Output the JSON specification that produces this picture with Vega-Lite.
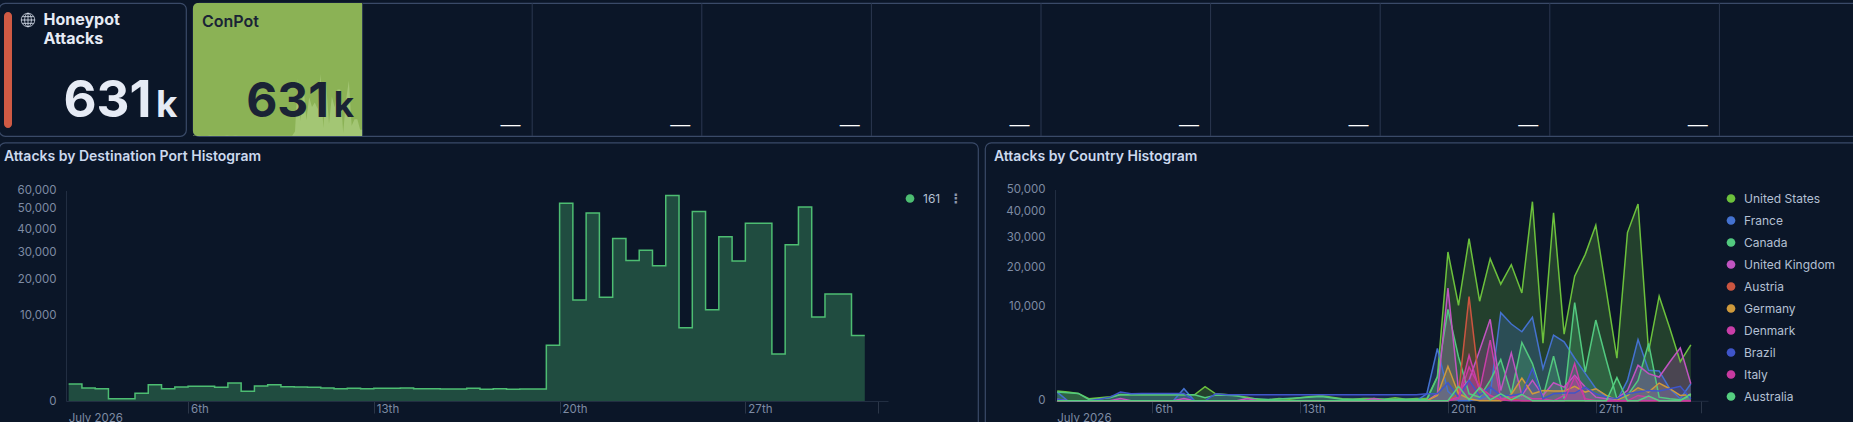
{
  "$schema": "https://vega.github.io/schema/vega-lite/v6.json",
  "background": "#0b1628",
  "padding": {"left": -2, "top": 1, "right": 0, "bottom": 0},
  "bounds": "full",
  "spacing": 3.5,
  "config": {
    "font": "Inter",
    "view": {"stroke": "#3a4a68", "fill": "#0b1628", "cornerRadius": 6, "strokeWidth": 1.2},
    "concat": {"spacing": 7},
    "axis": {"labelFont": "Inter", "labelColor": "#7e8ba3", "labelFontSize": 11.5, "grid": false, "title": null, "domainColor": "#222e42", "tickColor": "#2b3648", "labelOverlap": false, "labelFlush": false},
    "legend": {"labelFont": "Inter", "labelColor": "#b4c0d4", "labelFontSize": 12, "title": null, "symbolType": "circle", "symbolOpacity": 1, "symbolStrokeWidth": 0, "symbolSize": 75, "labelOffset": 7, "rowPadding": 10}
  },
  "datasets": {
    "tiles": [
      {"tile": "ConPot", "count": 631, "unit": "k"},
      {"tile": "tile 2", "dash": "—"},
      {"tile": "tile 3", "dash": "—"},
      {"tile": "tile 4", "dash": "—"},
      {"tile": "tile 5", "dash": "—"},
      {"tile": "tile 6", "dash": "—"},
      {"tile": "tile 7", "dash": "—"},
      {"tile": "tile 8", "dash": "—"},
      {"tile": "tile 9", "dash": "—"},
      {"tile": "tile 10"}
    ],
    "ports": [
      {"t":"2026-07-01T12:00Z","p":"161","v":390},{"t":"2026-07-02T00:00Z","p":"161","v":228},{"t":"2026-07-02T12:00Z","p":"161","v":205},
      {"t":"2026-07-03T00:00Z","p":"161","v":7},{"t":"2026-07-03T12:00Z","p":"161","v":7},{"t":"2026-07-04T00:00Z","p":"161","v":80},
      {"t":"2026-07-04T12:00Z","p":"161","v":360},{"t":"2026-07-05T00:00Z","p":"161","v":205},{"t":"2026-07-05T12:00Z","p":"161","v":265},
      {"t":"2026-07-06T00:00Z","p":"161","v":290},{"t":"2026-07-06T12:00Z","p":"161","v":290},{"t":"2026-07-07T00:00Z","p":"161","v":252},
      {"t":"2026-07-07T12:00Z","p":"161","v":438},{"t":"2026-07-08T00:00Z","p":"161","v":126},{"t":"2026-07-08T12:00Z","p":"161","v":304},
      {"t":"2026-07-09T00:00Z","p":"161","v":360},{"t":"2026-07-09T12:00Z","p":"161","v":278},{"t":"2026-07-10T00:00Z","p":"161","v":265},
      {"t":"2026-07-10T12:00Z","p":"161","v":252},{"t":"2026-07-11T00:00Z","p":"161","v":228},{"t":"2026-07-11T12:00Z","p":"161","v":205},
      {"t":"2026-07-12T00:00Z","p":"161","v":217},{"t":"2026-07-12T12:00Z","p":"161","v":205},{"t":"2026-07-13T00:00Z","p":"161","v":217},
      {"t":"2026-07-13T12:00Z","p":"161","v":217},{"t":"2026-07-14T00:00Z","p":"161","v":228},{"t":"2026-07-14T12:00Z","p":"161","v":205},
      {"t":"2026-07-15T00:00Z","p":"161","v":205},{"t":"2026-07-15T12:00Z","p":"161","v":195},{"t":"2026-07-16T00:00Z","p":"161","v":195},
      {"t":"2026-07-16T12:00Z","p":"161","v":217},{"t":"2026-07-17T00:00Z","p":"161","v":184},{"t":"2026-07-17T12:00Z","p":"161","v":205},
      {"t":"2026-07-18T00:00Z","p":"161","v":184},{"t":"2026-07-18T12:00Z","p":"161","v":195},{"t":"2026-07-19T00:00Z","p":"161","v":195},
      {"t":"2026-07-19T12:00Z","p":"161","v":4190},{"t":"2026-07-20T00:00Z","p":"161","v":53000},{"t":"2026-07-20T12:00Z","p":"161","v":13800},
      {"t":"2026-07-21T00:00Z","p":"161","v":47800},{"t":"2026-07-21T12:00Z","p":"161","v":14600},{"t":"2026-07-22T00:00Z","p":"161","v":35800},
      {"t":"2026-07-22T12:00Z","p":"161","v":26750},{"t":"2026-07-23T00:00Z","p":"161","v":30800},{"t":"2026-07-23T12:00Z","p":"161","v":24800},
      {"t":"2026-07-24T00:00Z","p":"161","v":57200},{"t":"2026-07-24T12:00Z","p":"161","v":7270},{"t":"2026-07-25T00:00Z","p":"161","v":48600},
      {"t":"2026-07-25T12:00Z","p":"161","v":11280},{"t":"2026-07-26T00:00Z","p":"161","v":36500},{"t":"2026-07-26T12:00Z","p":"161","v":26500},
      {"t":"2026-07-27T00:00Z","p":"161","v":42840},{"t":"2026-07-27T12:00Z","p":"161","v":42840},{"t":"2026-07-28T00:00Z","p":"161","v":2990},
      {"t":"2026-07-28T12:00Z","p":"161","v":33050},{"t":"2026-07-29T00:00Z","p":"161","v":50900},{"t":"2026-07-29T12:00Z","p":"161","v":9540},
      {"t":"2026-07-30T00:00Z","p":"161","v":15480},{"t":"2026-07-30T12:00Z","p":"161","v":15480},{"t":"2026-07-31T00:00Z","p":"161","v":5830},
      {"t":"2026-07-31T12:00Z","p":"161","v":5830}
    ],
    "countries": [
      {"t":"2026-07-01T12:00Z","c":"United States","v":106},{"t":"2026-07-02T00:00Z","c":"United States","v":85},{"t":"2026-07-02T12:00Z","c":"United States","v":61},
      {"t":"2026-07-03T00:00Z","c":"United States","v":5},{"t":"2026-07-03T12:00Z","c":"United States","v":10},{"t":"2026-07-04T00:00Z","c":"United States","v":18},
      {"t":"2026-07-04T12:00Z","c":"United States","v":45},{"t":"2026-07-05T00:00Z","c":"United States","v":41},{"t":"2026-07-08T00:00Z","c":"United States","v":41},
      {"t":"2026-07-08T12:00Z","c":"United States","v":222},{"t":"2026-07-09T00:00Z","c":"United States","v":55},{"t":"2026-07-09T12:00Z","c":"United States","v":45},
      {"t":"2026-07-10T00:00Z","c":"United States","v":28},{"t":"2026-07-10T12:00Z","c":"United States","v":15},{"t":"2026-07-11T00:00Z","c":"United States","v":2},
      {"t":"2026-07-11T12:00Z","c":"United States","v":1},{"t":"2026-07-12T00:00Z","c":"United States","v":6},{"t":"2026-07-12T12:00Z","c":"United States","v":3},
      {"t":"2026-07-13T00:00Z","c":"United States","v":10},{"t":"2026-07-13T12:00Z","c":"United States","v":21},{"t":"2026-07-14T00:00Z","c":"United States","v":32},
      {"t":"2026-07-14T12:00Z","c":"United States","v":15},{"t":"2026-07-15T00:00Z","c":"United States","v":5},{"t":"2026-07-15T12:00Z","c":"United States","v":3},
      {"t":"2026-07-16T00:00Z","c":"United States","v":6},{"t":"2026-07-16T12:00Z","c":"United States","v":6},{"t":"2026-07-17T00:00Z","c":"United States","v":3},
      {"t":"2026-07-17T12:00Z","c":"United States","v":10},{"t":"2026-07-18T00:00Z","c":"United States","v":3},{"t":"2026-07-18T12:00Z","c":"United States","v":6},
      {"t":"2026-07-19T00:00Z","c":"United States","v":6},{"t":"2026-07-19T12:00Z","c":"United States","v":652},{"t":"2026-07-20T00:00Z","c":"United States","v":24800},
      {"t":"2026-07-20T12:00Z","c":"United States","v":10220},{"t":"2026-07-21T00:00Z","c":"United States","v":29470},{"t":"2026-07-21T12:00Z","c":"United States","v":11100},
      {"t":"2026-07-22T00:00Z","c":"United States","v":22620},{"t":"2026-07-22T12:00Z","c":"United States","v":15240},{"t":"2026-07-23T00:00Z","c":"United States","v":20740},
      {"t":"2026-07-23T12:00Z","c":"United States","v":13040},{"t":"2026-07-24T00:00Z","c":"United States","v":44390},{"t":"2026-07-24T12:00Z","c":"United States","v":3720},
      {"t":"2026-07-25T00:00Z","c":"United States","v":39590},{"t":"2026-07-25T12:00Z","c":"United States","v":4980},{"t":"2026-07-26T00:00Z","c":"United States","v":17410},
      {"t":"2026-07-26T12:00Z","c":"United States","v":24020},{"t":"2026-07-27T00:00Z","c":"United States","v":34540},{"t":"2026-07-27T12:00Z","c":"United States","v":13450},
      {"t":"2026-07-28T00:00Z","c":"United States","v":2030},{"t":"2026-07-28T12:00Z","c":"United States","v":31700},{"t":"2026-07-29T00:00Z","c":"United States","v":43350},
      {"t":"2026-07-29T12:00Z","c":"United States","v":2720},{"t":"2026-07-30T00:00Z","c":"United States","v":12250},{"t":"2026-07-30T12:00Z","c":"United States","v":5920},
      {"t":"2026-07-31T00:00Z","c":"United States","v":1720},{"t":"2026-07-31T12:00Z","c":"United States","v":3510},

      {"t":"2026-07-01T12:00Z","c":"France","v":85},{"t":"2026-07-02T00:00Z","c":"France","v":0},{"t":"2026-07-07T00:00Z","c":"France","v":0},
      {"t":"2026-07-07T12:00Z","c":"France","v":163},{"t":"2026-07-08T00:00Z","c":"France","v":0},{"t":"2026-07-18T12:00Z","c":"France","v":0},
      {"t":"2026-07-19T00:00Z","c":"France","v":55},{"t":"2026-07-19T12:00Z","c":"France","v":3060},{"t":"2026-07-20T00:00Z","c":"France","v":100},
      {"t":"2026-07-20T12:00Z","c":"France","v":0},{"t":"2026-07-21T00:00Z","c":"France","v":0},{"t":"2026-07-21T12:00Z","c":"France","v":5},
      {"t":"2026-07-22T00:00Z","c":"France","v":50},{"t":"2026-07-22T12:00Z","c":"France","v":8700},{"t":"2026-07-23T00:00Z","c":"France","v":6600},
      {"t":"2026-07-23T12:00Z","c":"France","v":5340},{"t":"2026-07-24T00:00Z","c":"France","v":7800},{"t":"2026-07-24T12:00Z","c":"France","v":1160},
      {"t":"2026-07-25T00:00Z","c":"France","v":4830},{"t":"2026-07-25T12:00Z","c":"France","v":3900},{"t":"2026-07-26T00:00Z","c":"France","v":2030},
      {"t":"2026-07-26T12:00Z","c":"France","v":846},{"t":"2026-07-27T00:00Z","c":"France","v":172},{"t":"2026-07-27T12:00Z","c":"France","v":18},
      {"t":"2026-07-28T00:00Z","c":"France","v":0},{"t":"2026-07-28T12:00Z","c":"France","v":468},{"t":"2026-07-29T00:00Z","c":"France","v":4210},
      {"t":"2026-07-29T12:00Z","c":"France","v":1040},{"t":"2026-07-30T00:00Z","c":"France","v":1000},{"t":"2026-07-30T12:00Z","c":"France","v":163},
      {"t":"2026-07-31T00:00Z","c":"France","v":5},{"t":"2026-07-31T12:00Z","c":"France","v":327},

      {"t":"2026-07-01T12:00Z","c":"Canada","v":85},{"t":"2026-07-02T00:00Z","c":"Canada","v":72},{"t":"2026-07-02T12:00Z","c":"Canada","v":61},
      {"t":"2026-07-03T00:00Z","c":"Canada","v":2},{"t":"2026-07-03T12:00Z","c":"Canada","v":5},{"t":"2026-07-04T00:00Z","c":"Canada","v":10},
      {"t":"2026-07-04T12:00Z","c":"Canada","v":45},{"t":"2026-07-05T00:00Z","c":"Canada","v":41},{"t":"2026-07-08T00:00Z","c":"Canada","v":41},
      {"t":"2026-07-08T12:00Z","c":"Canada","v":10},{"t":"2026-07-09T00:00Z","c":"Canada","v":36},{"t":"2026-07-09T12:00Z","c":"Canada","v":36},
      {"t":"2026-07-10T00:00Z","c":"Canada","v":28},{"t":"2026-07-10T12:00Z","c":"Canada","v":8},{"t":"2026-07-11T12:00Z","c":"Canada","v":2},
      {"t":"2026-07-14T00:00Z","c":"Canada","v":20},{"t":"2026-07-15T00:00Z","c":"Canada","v":3},{"t":"2026-07-18T12:00Z","c":"Canada","v":3},
      {"t":"2026-07-19T00:00Z","c":"Canada","v":1},{"t":"2026-07-19T12:00Z","c":"Canada","v":634},{"t":"2026-07-20T00:00Z","c":"Canada","v":9376},
      {"t":"2026-07-20T12:00Z","c":"Canada","v":2160},{"t":"2026-07-21T00:00Z","c":"Canada","v":55},{"t":"2026-07-21T12:00Z","c":"Canada","v":15},
      {"t":"2026-07-22T00:00Z","c":"Canada","v":468},{"t":"2026-07-22T12:00Z","c":"Canada","v":1900},{"t":"2026-07-23T00:00Z","c":"Canada","v":55},
      {"t":"2026-07-23T12:00Z","c":"Canada","v":3810},{"t":"2026-07-24T00:00Z","c":"Canada","v":1550},{"t":"2026-07-24T12:00Z","c":"Canada","v":15},
      {"t":"2026-07-25T00:00Z","c":"Canada","v":2225},{"t":"2026-07-25T12:00Z","c":"Canada","v":5},{"t":"2026-07-26T00:00Z","c":"Canada","v":10800},
      {"t":"2026-07-26T12:00Z","c":"Canada","v":930},{"t":"2026-07-27T00:00Z","c":"Canada","v":7300},{"t":"2026-07-27T12:00Z","c":"Canada","v":1840},
      {"t":"2026-07-28T00:00Z","c":"Canada","v":5},{"t":"2026-07-28T12:00Z","c":"Canada","v":32},{"t":"2026-07-29T00:00Z","c":"Canada","v":468},
      {"t":"2026-07-29T12:00Z","c":"Canada","v":3680},{"t":"2026-07-30T00:00Z","c":"Canada","v":15},{"t":"2026-07-30T12:00Z","c":"Canada","v":5},
      {"t":"2026-07-31T00:00Z","c":"Canada","v":1},{"t":"2026-07-31T12:00Z","c":"Canada","v":32},

      {"t":"2026-07-01T12:00Z","c":"United Kingdom","v":3},{"t":"2026-07-02T00:00Z","c":"United Kingdom","v":0},{"t":"2026-07-04T00:00Z","c":"United Kingdom","v":0},
      {"t":"2026-07-04T12:00Z","c":"United Kingdom","v":6},{"t":"2026-07-05T00:00Z","c":"United Kingdom","v":0},{"t":"2026-07-07T00:00Z","c":"United Kingdom","v":0},
      {"t":"2026-07-07T12:00Z","c":"United Kingdom","v":6},{"t":"2026-07-08T00:00Z","c":"United Kingdom","v":0},{"t":"2026-07-10T00:00Z","c":"United Kingdom","v":0},
      {"t":"2026-07-10T12:00Z","c":"United Kingdom","v":6},{"t":"2026-07-11T00:00Z","c":"United Kingdom","v":0},{"t":"2026-07-16T00:00Z","c":"United Kingdom","v":0},
      {"t":"2026-07-16T12:00Z","c":"United Kingdom","v":6},{"t":"2026-07-17T00:00Z","c":"United Kingdom","v":0},{"t":"2026-07-19T00:00Z","c":"United Kingdom","v":0},
      {"t":"2026-07-19T12:00Z","c":"United Kingdom","v":55},{"t":"2026-07-20T00:00Z","c":"United Kingdom","v":14200},{"t":"2026-07-20T12:00Z","c":"United Kingdom","v":120},
      {"t":"2026-07-21T00:00Z","c":"United Kingdom","v":468},{"t":"2026-07-21T12:00Z","c":"United Kingdom","v":2870},{"t":"2026-07-22T00:00Z","c":"United Kingdom","v":7430},
      {"t":"2026-07-22T12:00Z","c":"United Kingdom","v":120},{"t":"2026-07-23T00:00Z","c":"United Kingdom","v":2570},{"t":"2026-07-23T12:00Z","c":"United Kingdom","v":32},
      {"t":"2026-07-24T00:00Z","c":"United Kingdom","v":468},{"t":"2026-07-24T12:00Z","c":"United Kingdom","v":32},{"t":"2026-07-25T00:00Z","c":"United Kingdom","v":367},
      {"t":"2026-07-25T12:00Z","c":"United Kingdom","v":211},{"t":"2026-07-26T00:00Z","c":"United Kingdom","v":727},{"t":"2026-07-26T12:00Z","c":"United Kingdom","v":211},
      {"t":"2026-07-27T00:00Z","c":"United Kingdom","v":15},{"t":"2026-07-27T12:00Z","c":"United Kingdom","v":5},{"t":"2026-07-28T00:00Z","c":"United Kingdom","v":5},
      {"t":"2026-07-28T12:00Z","c":"United Kingdom","v":120},{"t":"2026-07-29T00:00Z","c":"United Kingdom","v":1410},{"t":"2026-07-29T12:00Z","c":"United Kingdom","v":825},
      {"t":"2026-07-30T00:00Z","c":"United Kingdom","v":634},{"t":"2026-07-30T12:00Z","c":"United Kingdom","v":1690},{"t":"2026-07-31T00:00Z","c":"United Kingdom","v":3140},
      {"t":"2026-07-31T12:00Z","c":"United Kingdom","v":327},

      {"t":"2026-07-01T12:00Z","c":"Austria","v":0},{"t":"2026-07-20T00:00Z","c":"Austria","v":0},{"t":"2026-07-20T12:00Z","c":"Austria","v":55},
      {"t":"2026-07-21T00:00Z","c":"Austria","v":12170},{"t":"2026-07-21T12:00Z","c":"Austria","v":211},{"t":"2026-07-22T00:00Z","c":"Austria","v":32},
      {"t":"2026-07-22T12:00Z","c":"Austria","v":0},{"t":"2026-07-23T00:00Z","c":"Austria","v":5},{"t":"2026-07-23T12:00Z","c":"Austria","v":0},
      {"t":"2026-07-31T12:00Z","c":"Austria","v":0},

      {"t":"2026-07-01T12:00Z","c":"Germany","v":0},{"t":"2026-07-19T00:00Z","c":"Germany","v":0},{"t":"2026-07-19T12:00Z","c":"Germany","v":32},
      {"t":"2026-07-20T00:00Z","c":"Germany","v":1335},{"t":"2026-07-20T12:00Z","c":"Germany","v":55},{"t":"2026-07-21T00:00Z","c":"Germany","v":5},
      {"t":"2026-07-21T12:00Z","c":"Germany","v":0},{"t":"2026-07-22T12:00Z","c":"Germany","v":0},{"t":"2026-07-23T00:00Z","c":"Germany","v":45},
      {"t":"2026-07-23T12:00Z","c":"Germany","v":582},{"t":"2026-07-24T00:00Z","c":"Germany","v":55},{"t":"2026-07-24T12:00Z","c":"Germany","v":120},
      {"t":"2026-07-25T00:00Z","c":"Germany","v":106},{"t":"2026-07-25T12:00Z","c":"Germany","v":106},{"t":"2026-07-26T00:00Z","c":"Germany","v":233},
      {"t":"2026-07-26T12:00Z","c":"Germany","v":85},{"t":"2026-07-27T00:00Z","c":"Germany","v":163},{"t":"2026-07-27T12:00Z","c":"Germany","v":32},
      {"t":"2026-07-28T00:00Z","c":"Germany","v":1},{"t":"2026-07-28T12:00Z","c":"Germany","v":32},{"t":"2026-07-29T00:00Z","c":"Germany","v":191},
      {"t":"2026-07-29T12:00Z","c":"Germany","v":85},{"t":"2026-07-30T00:00Z","c":"Germany","v":353},{"t":"2026-07-30T12:00Z","c":"Germany","v":163},
      {"t":"2026-07-31T00:00Z","c":"Germany","v":32},{"t":"2026-07-31T12:00Z","c":"Germany","v":45},

      {"t":"2026-07-01T12:00Z","c":"Denmark","v":0},{"t":"2026-07-20T00:00Z","c":"Denmark","v":0},{"t":"2026-07-20T12:00Z","c":"Denmark","v":15},
      {"t":"2026-07-21T00:00Z","c":"Denmark","v":2327},{"t":"2026-07-21T12:00Z","c":"Denmark","v":120},{"t":"2026-07-22T00:00Z","c":"Denmark","v":4120},
      {"t":"2026-07-22T12:00Z","c":"Denmark","v":5},{"t":"2026-07-23T00:00Z","c":"Denmark","v":15},{"t":"2026-07-23T12:00Z","c":"Denmark","v":32},
      {"t":"2026-07-24T00:00Z","c":"Denmark","v":5},{"t":"2026-07-24T12:00Z","c":"Denmark","v":5},{"t":"2026-07-25T00:00Z","c":"Denmark","v":0},
      {"t":"2026-07-25T12:00Z","c":"Denmark","v":32},{"t":"2026-07-26T00:00Z","c":"Denmark","v":1550},{"t":"2026-07-26T12:00Z","c":"Denmark","v":0},
      {"t":"2026-07-31T12:00Z","c":"Denmark","v":0},

      {"t":"2026-07-01T12:00Z","c":"Brazil","v":3},{"t":"2026-07-02T00:00Z","c":"Brazil","v":0},{"t":"2026-07-03T00:00Z","c":"Brazil","v":0},
      {"t":"2026-07-03T12:00Z","c":"Brazil","v":3},{"t":"2026-07-04T00:00Z","c":"Brazil","v":15},{"t":"2026-07-04T12:00Z","c":"Brazil","v":85},
      {"t":"2026-07-05T00:00Z","c":"Brazil","v":55},{"t":"2026-07-05T12:00Z","c":"Brazil","v":61},{"t":"2026-07-07T00:00Z","c":"Brazil","v":61},
      {"t":"2026-07-07T12:00Z","c":"Brazil","v":61},{"t":"2026-07-08T00:00Z","c":"Brazil","v":0},{"t":"2026-07-08T12:00Z","c":"Brazil","v":0},
      {"t":"2026-07-09T00:00Z","c":"Brazil","v":55},{"t":"2026-07-09T12:00Z","c":"Brazil","v":41},{"t":"2026-07-18T12:00Z","c":"Brazil","v":41},
      {"t":"2026-07-19T00:00Z","c":"Brazil","v":55},{"t":"2026-07-19T12:00Z","c":"Brazil","v":55},{"t":"2026-07-20T00:00Z","c":"Brazil","v":367},
      {"t":"2026-07-20T12:00Z","c":"Brazil","v":15},{"t":"2026-07-21T00:00Z","c":"Brazil","v":468},{"t":"2026-07-21T12:00Z","c":"Brazil","v":32},
      {"t":"2026-07-22T00:00Z","c":"Brazil","v":211},{"t":"2026-07-22T12:00Z","c":"Brazil","v":32},{"t":"2026-07-23T00:00Z","c":"Brazil","v":32},
      {"t":"2026-07-23T12:00Z","c":"Brazil","v":55},{"t":"2026-07-24T00:00Z","c":"Brazil","v":1160},{"t":"2026-07-24T12:00Z","c":"Brazil","v":5},
      {"t":"2026-07-25T00:00Z","c":"Brazil","v":55},{"t":"2026-07-25T12:00Z","c":"Brazil","v":67},{"t":"2026-07-26T00:00Z","c":"Brazil","v":67},
      {"t":"2026-07-26T12:00Z","c":"Brazil","v":211},{"t":"2026-07-27T00:00Z","c":"Brazil","v":55},{"t":"2026-07-27T12:00Z","c":"Brazil","v":15},
      {"t":"2026-07-28T00:00Z","c":"Brazil","v":5},{"t":"2026-07-28T12:00Z","c":"Brazil","v":55},{"t":"2026-07-29T00:00Z","c":"Brazil","v":85},
      {"t":"2026-07-29T12:00Z","c":"Brazil","v":120},{"t":"2026-07-30T00:00Z","c":"Brazil","v":106},{"t":"2026-07-30T12:00Z","c":"Brazil","v":163},
      {"t":"2026-07-31T00:00Z","c":"Brazil","v":233},{"t":"2026-07-31T12:00Z","c":"Brazil","v":5},

      {"t":"2026-07-01T12:00Z","c":"Italy","v":0},{"t":"2026-07-20T00:00Z","c":"Italy","v":0},{"t":"2026-07-20T12:00Z","c":"Italy","v":5},
      {"t":"2026-07-21T00:00Z","c":"Italy","v":1283},{"t":"2026-07-21T12:00Z","c":"Italy","v":211},{"t":"2026-07-22T00:00Z","c":"Italy","v":32},
      {"t":"2026-07-22T12:00Z","c":"Italy","v":1},{"t":"2026-07-23T00:00Z","c":"Italy","v":0},{"t":"2026-07-25T12:00Z","c":"Italy","v":0},
      {"t":"2026-07-26T00:00Z","c":"Italy","v":634},{"t":"2026-07-26T12:00Z","c":"Italy","v":5},{"t":"2026-07-27T00:00Z","c":"Italy","v":0},
      {"t":"2026-07-28T12:00Z","c":"Italy","v":0},{"t":"2026-07-29T00:00Z","c":"Italy","v":32},{"t":"2026-07-29T12:00Z","c":"Italy","v":15},
      {"t":"2026-07-30T00:00Z","c":"Italy","v":0},{"t":"2026-07-31T12:00Z","c":"Italy","v":0},

      {"t":"2026-07-01T12:00Z","c":"Australia","v":0},{"t":"2026-07-20T00:00Z","c":"Australia","v":0},{"t":"2026-07-20T12:00Z","c":"Australia","v":233},
      {"t":"2026-07-21T00:00Z","c":"Australia","v":1},{"t":"2026-07-21T12:00Z","c":"Australia","v":191},{"t":"2026-07-22T00:00Z","c":"Australia","v":1},
      {"t":"2026-07-22T12:00Z","c":"Australia","v":55},{"t":"2026-07-23T00:00Z","c":"Australia","v":1},{"t":"2026-07-23T12:00Z","c":"Australia","v":45},
      {"t":"2026-07-24T00:00Z","c":"Australia","v":0},{"t":"2026-07-27T12:00Z","c":"Australia","v":0},{"t":"2026-07-28T00:00Z","c":"Australia","v":599},
      {"t":"2026-07-28T12:00Z","c":"Australia","v":0},{"t":"2026-07-29T00:00Z","c":"Australia","v":0},{"t":"2026-07-29T12:00Z","c":"Australia","v":25},
      {"t":"2026-07-30T00:00Z","c":"Australia","v":0},{"t":"2026-07-31T00:00Z","c":"Australia","v":0},{"t":"2026-07-31T12:00Z","c":"Australia","v":55}
    ]
  },
  "vconcat": [
    {
      "bounds": "flush",
      "spacing": 7,
      "hconcat": [
        {
          "width": 187,
          "height": 133,
          "data": {"values": [{"tile": "Honeypot Attacks", "title": "Honeypot\nAttacks", "count": 631, "unit": "k"}]},
          "resolve": {"scale": {"x": "independent", "y": "independent"}},
          "layer": [
            {
              "mark": {"type": "bar", "color": "#cf5a44", "cornerRadius": 4},
              "encoding": {
                "x": {"field": "tile", "type": "nominal", "axis": null, "scale": {"range": [5, 13], "paddingInner": 0, "paddingOuter": 0}},
                "y": {"field": "count", "type": "quantitative", "axis": null, "scale": {"domain": [0, 631], "range": [125, 9]}}
              }
            },
            {
              "mark": {"type": "point", "shape": "M-1,0A1,1 0 1,1 1,0A1,1 0 1,1 -1,0Z M-1,0L1,0 M-0.85,-0.5L0.85,-0.5 M-0.85,0.5L0.85,0.5 M0,-1L0,1 M0,-1A0.5,1 0 0,0 0,1 M0,-1A0.5,1 0 0,1 0,1", "size": 180, "stroke": "#dfe6f2", "strokeWidth": 0.8, "fill": null, "opacity": 1},
              "encoding": {
                "x": {"field": "tile", "type": "nominal", "axis": null, "scale": {"type": "point", "range": [29, 29]}},
                "y": {"field": "tile", "type": "nominal", "axis": null, "scale": {"type": "point", "range": [17, 17]}}
              }
            },
            {
              "mark": {"type": "text", "align": "left", "baseline": "top", "dx": -49, "dy": -58, "lineBreak": "\n", "lineHeight": 19, "font": "Inter", "fontSize": 16, "fontWeight": 700, "color": "#e6ebf5"},
              "encoding": {"text": {"field": "title"}}
            },
            {
              "mark": {"type": "text", "align": "right", "baseline": "alphabetic", "dx": 59, "dy": 47, "font": "Inter", "fontSize": 51, "fontWeight": 700, "color": "#e6ebf5"},
              "encoding": {"text": {"field": "count", "type": "quantitative"}}
            },
            {
              "mark": {"type": "text", "align": "right", "baseline": "alphabetic", "dx": 85, "dy": 47, "font": "Inter", "fontSize": 37, "fontWeight": 700, "color": "#e6ebf5"},
              "encoding": {"text": {"field": "unit"}}
            }
          ]
        },
        {
          "width": 1668,
          "height": 133,
          "resolve": {"scale": {"x": "independent", "y": "independent"}},
          "layer": [
            {
              "data": {"name": "tiles"},
              "transform": [{"filter": "datum.count"}],
              "mark": {"type": "rect", "color": "#8bb255", "cornerRadiusBottomLeft": 5, "cornerRadiusTopLeft": 5},
              "encoding": {
                "x": {"field": "tile", "type": "nominal", "axis": null, "sort": null, "scale": {"domain": ["ConPot", "tile 2", "tile 3", "tile 4", "tile 5", "tile 6", "tile 7", "tile 8", "tile 9", "tile 10"], "range": [0, 1696], "paddingInner": 0, "paddingOuter": 0}}
              }
            },
            {
              "data": {"name": "ports"},
              "mark": {"type": "area", "color": "#a3c674"},
              "encoding": {
                "x": {"field": "t", "type": "temporal", "axis": null, "scale": {"type": "utc", "range": [0, 170]}},
                "y": {"field": "v", "type": "quantitative", "axis": null, "scale": {"domain": [0, 57200], "range": [133, 71]}}
              }
            },
            {
              "data": {"name": "tiles"},
              "encoding": {
                "x": {"field": "tile", "type": "nominal", "axis": null, "sort": null, "scale": {"domain": ["ConPot", "tile 2", "tile 3", "tile 4", "tile 5", "tile 6", "tile 7", "tile 8", "tile 9", "tile 10"], "range": [0, 1696], "paddingInner": 0, "paddingOuter": 0}, "bandPosition": 0}
              },
              "layer": [
                {
                  "transform": [{"filter": "datum.tile != 'ConPot'"}],
                  "mark": {"type": "rule", "color": "#2b3750", "strokeWidth": 1}
                },
                {
                  "transform": [{"filter": "datum.count"}],
                  "mark": {"type": "text", "align": "left", "baseline": "middle", "dx": 9, "dy": -47.5, "font": "Inter", "fontSize": 16, "fontWeight": 600, "color": "#1a2335"},
                  "encoding": {"text": {"field": "tile"}}
                },
                {
                  "transform": [{"filter": "datum.count"}],
                  "mark": {"type": "text", "align": "right", "baseline": "alphabetic", "dx": 136, "dy": 47, "font": "Inter", "fontSize": 48, "fontWeight": 700, "color": "#1a2335"},
                  "encoding": {"text": {"field": "count", "type": "quantitative"}}
                },
                {
                  "transform": [{"filter": "datum.count"}],
                  "mark": {"type": "text", "align": "right", "baseline": "alphabetic", "dx": 161, "dy": 47, "font": "Inter", "fontSize": 35, "fontWeight": 700, "color": "#1a2335"},
                  "encoding": {"text": {"field": "unit"}}
                },
                {
                  "transform": [{"filter": "datum.dash"}],
                  "mark": {"type": "text", "align": "right", "baseline": "middle", "dx": 158, "dy": 56, "font": "Inter", "fontSize": 20, "fontWeight": 300, "color": "#ffffff"},
                  "encoding": {"text": {"field": "dash"}}
                }
              ]
            }
          ]
        }
      ]
    },
    {
      "bounds": "flush",
      "spacing": 7,
      "resolve": {"scale": {"color": "independent"}, "legend": {"color": "independent"}},
      "hconcat": [
        {
          "width": 979,
          "height": 285,
          "title": {"text": "Attacks by Destination Port Histogram", "anchor": "start", "frame": "group", "offset": -21, "dx": 5, "font": "Inter", "fontSize": 14, "fontWeight": 600, "color": "#ccd9ee"},
          "encoding": {
            "x": {
              "field": "t", "type": "temporal",
              "scale": {"type": "utc", "domain": ["2026-07-01T09:36Z", "2026-08-01T09:00Z"], "range": [67, 889]},
              "axis": {"offset": -26.5, "tickSize": 12, "labelAlign": "left", "labelBaseline": "middle", "labelPadding": -3.5, "labelOffset": 2.5,
                "values": [{"year": 2026, "month": 7, "date": 6, "utc": true}, {"year": 2026, "month": 7, "date": 13, "utc": true}, {"year": 2026, "month": 7, "date": 20, "utc": true}, {"year": 2026, "month": 7, "date": 27, "utc": true}, {"year": 2026, "month": 8, "date": 1, "utc": true}],
                "labelExpr": "utcdate(datum.value) == 1 ? '' : utcdate(datum.value) + 'th'"}
            },
            "y": {
              "field": "v", "type": "quantitative", "stack": null,
              "scale": {"type": "sqrt", "domain": [0, 60000], "range": [258.5, 48]},
              "axis": {"offset": -67, "ticks": false, "labelPadding": 10, "format": ",d", "values": [0, 10000, 20000, 30000, 40000, 50000, 60000]}
            }
          },
          "layer": [
            {
              "data": {"name": "ports"},
              "mark": {"type": "area", "interpolate": "step-after", "opacity": 0.33},
              "encoding": {"color": {"field": "p", "type": "nominal", "scale": {"domain": ["161"], "range": ["#4dbd72"]}, "legend": {"orient": "none", "legendX": 905, "legendY": 50}}}
            },
            {
              "data": {"name": "ports"},
              "mark": {"type": "line", "interpolate": "step-after", "strokeWidth": 1.5},
              "encoding": {"color": {"field": "p", "type": "nominal"}}
            },
            {
              "data": {"values": [{"t": "2026-07-01T12:00Z", "v": 0, "label": "July 2026"}]},
              "mark": {"type": "text", "align": "left", "baseline": "middle", "dy": 18, "font": "Inter", "fontSize": 11.5, "color": "#7e8ba3"},
              "encoding": {"text": {"field": "label"}}
            },
            {
              "data": {"values": [{"t": "2026-08-03T22:30Z", "v": 55200, "label": "⋮"}]},
              "mark": {"type": "text", "align": "center", "baseline": "middle", "font": "DejaVu Sans", "fontSize": 13, "fontWeight": 700, "color": "#8d98ac"},
              "encoding": {"text": {"field": "label"}}
            }
          ]
        },
        {
          "width": 873,
          "height": 285,
          "title": {"text": "Attacks by Country Histogram", "anchor": "start", "frame": "group", "offset": -21, "dx": 9, "font": "Inter", "fontSize": 14, "fontWeight": 600, "color": "#ccd9ee"},
          "encoding": {
            "x": {
              "field": "t", "type": "temporal",
              "scale": {"type": "utc", "domain": ["2026-07-01T09:30Z", "2026-08-01T07:30Z"], "range": [70, 723]},
              "axis": {"offset": -26.7, "tickSize": 12, "labelAlign": "left", "labelBaseline": "middle", "labelPadding": -3.5, "labelOffset": 2.5,
                "values": [{"year": 2026, "month": 7, "date": 6, "utc": true}, {"year": 2026, "month": 7, "date": 13, "utc": true}, {"year": 2026, "month": 7, "date": 20, "utc": true}, {"year": 2026, "month": 7, "date": 27, "utc": true}, {"year": 2026, "month": 8, "date": 1, "utc": true}],
                "labelExpr": "utcdate(datum.value) == 1 ? '' : utcdate(datum.value) + 'th'"}
            },
            "y": {
              "field": "v", "type": "quantitative", "stack": null,
              "scale": {"type": "sqrt", "domain": [0, 50000], "range": [258.3, 47]},
              "axis": {"offset": -70, "ticks": false, "labelPadding": 10, "format": ",d", "values": [0, 10000, 20000, 30000, 40000, 50000]}
            }
          },
          "layer": [
            {
              "data": {"name": "countries"},
              "mark": {"type": "area", "opacity": 0.25},
              "encoding": {"color": {"field": "c", "type": "nominal", "sort": null,
                "scale": {"domain": ["United States", "France", "Canada", "United Kingdom", "Austria", "Germany", "Denmark", "Brazil", "Italy", "Australia"], "range": ["#6cc13c", "#4472d0", "#52c97f", "#c154c1", "#cb5540", "#cf9a3c", "#c93ea8", "#3f55c9", "#c83aa0", "#55cf80"]},
                "legend": {"orient": "none", "legendX": 740, "legendY": 50}}}
            },
            {
              "data": {"name": "countries"},
              "mark": {"type": "line", "strokeWidth": 1.5},
              "encoding": {"color": {"field": "c", "type": "nominal", "sort": null}}
            },
            {
              "data": {"values": [{"t": "2026-07-01T12:00Z", "v": 0, "label": "July 2026"}]},
              "mark": {"type": "text", "align": "left", "baseline": "middle", "dy": 18, "font": "Inter", "fontSize": 11.5, "color": "#7e8ba3"},
              "encoding": {"text": {"field": "label"}}
            }
          ]
        }
      ]
    }
  ]
}
